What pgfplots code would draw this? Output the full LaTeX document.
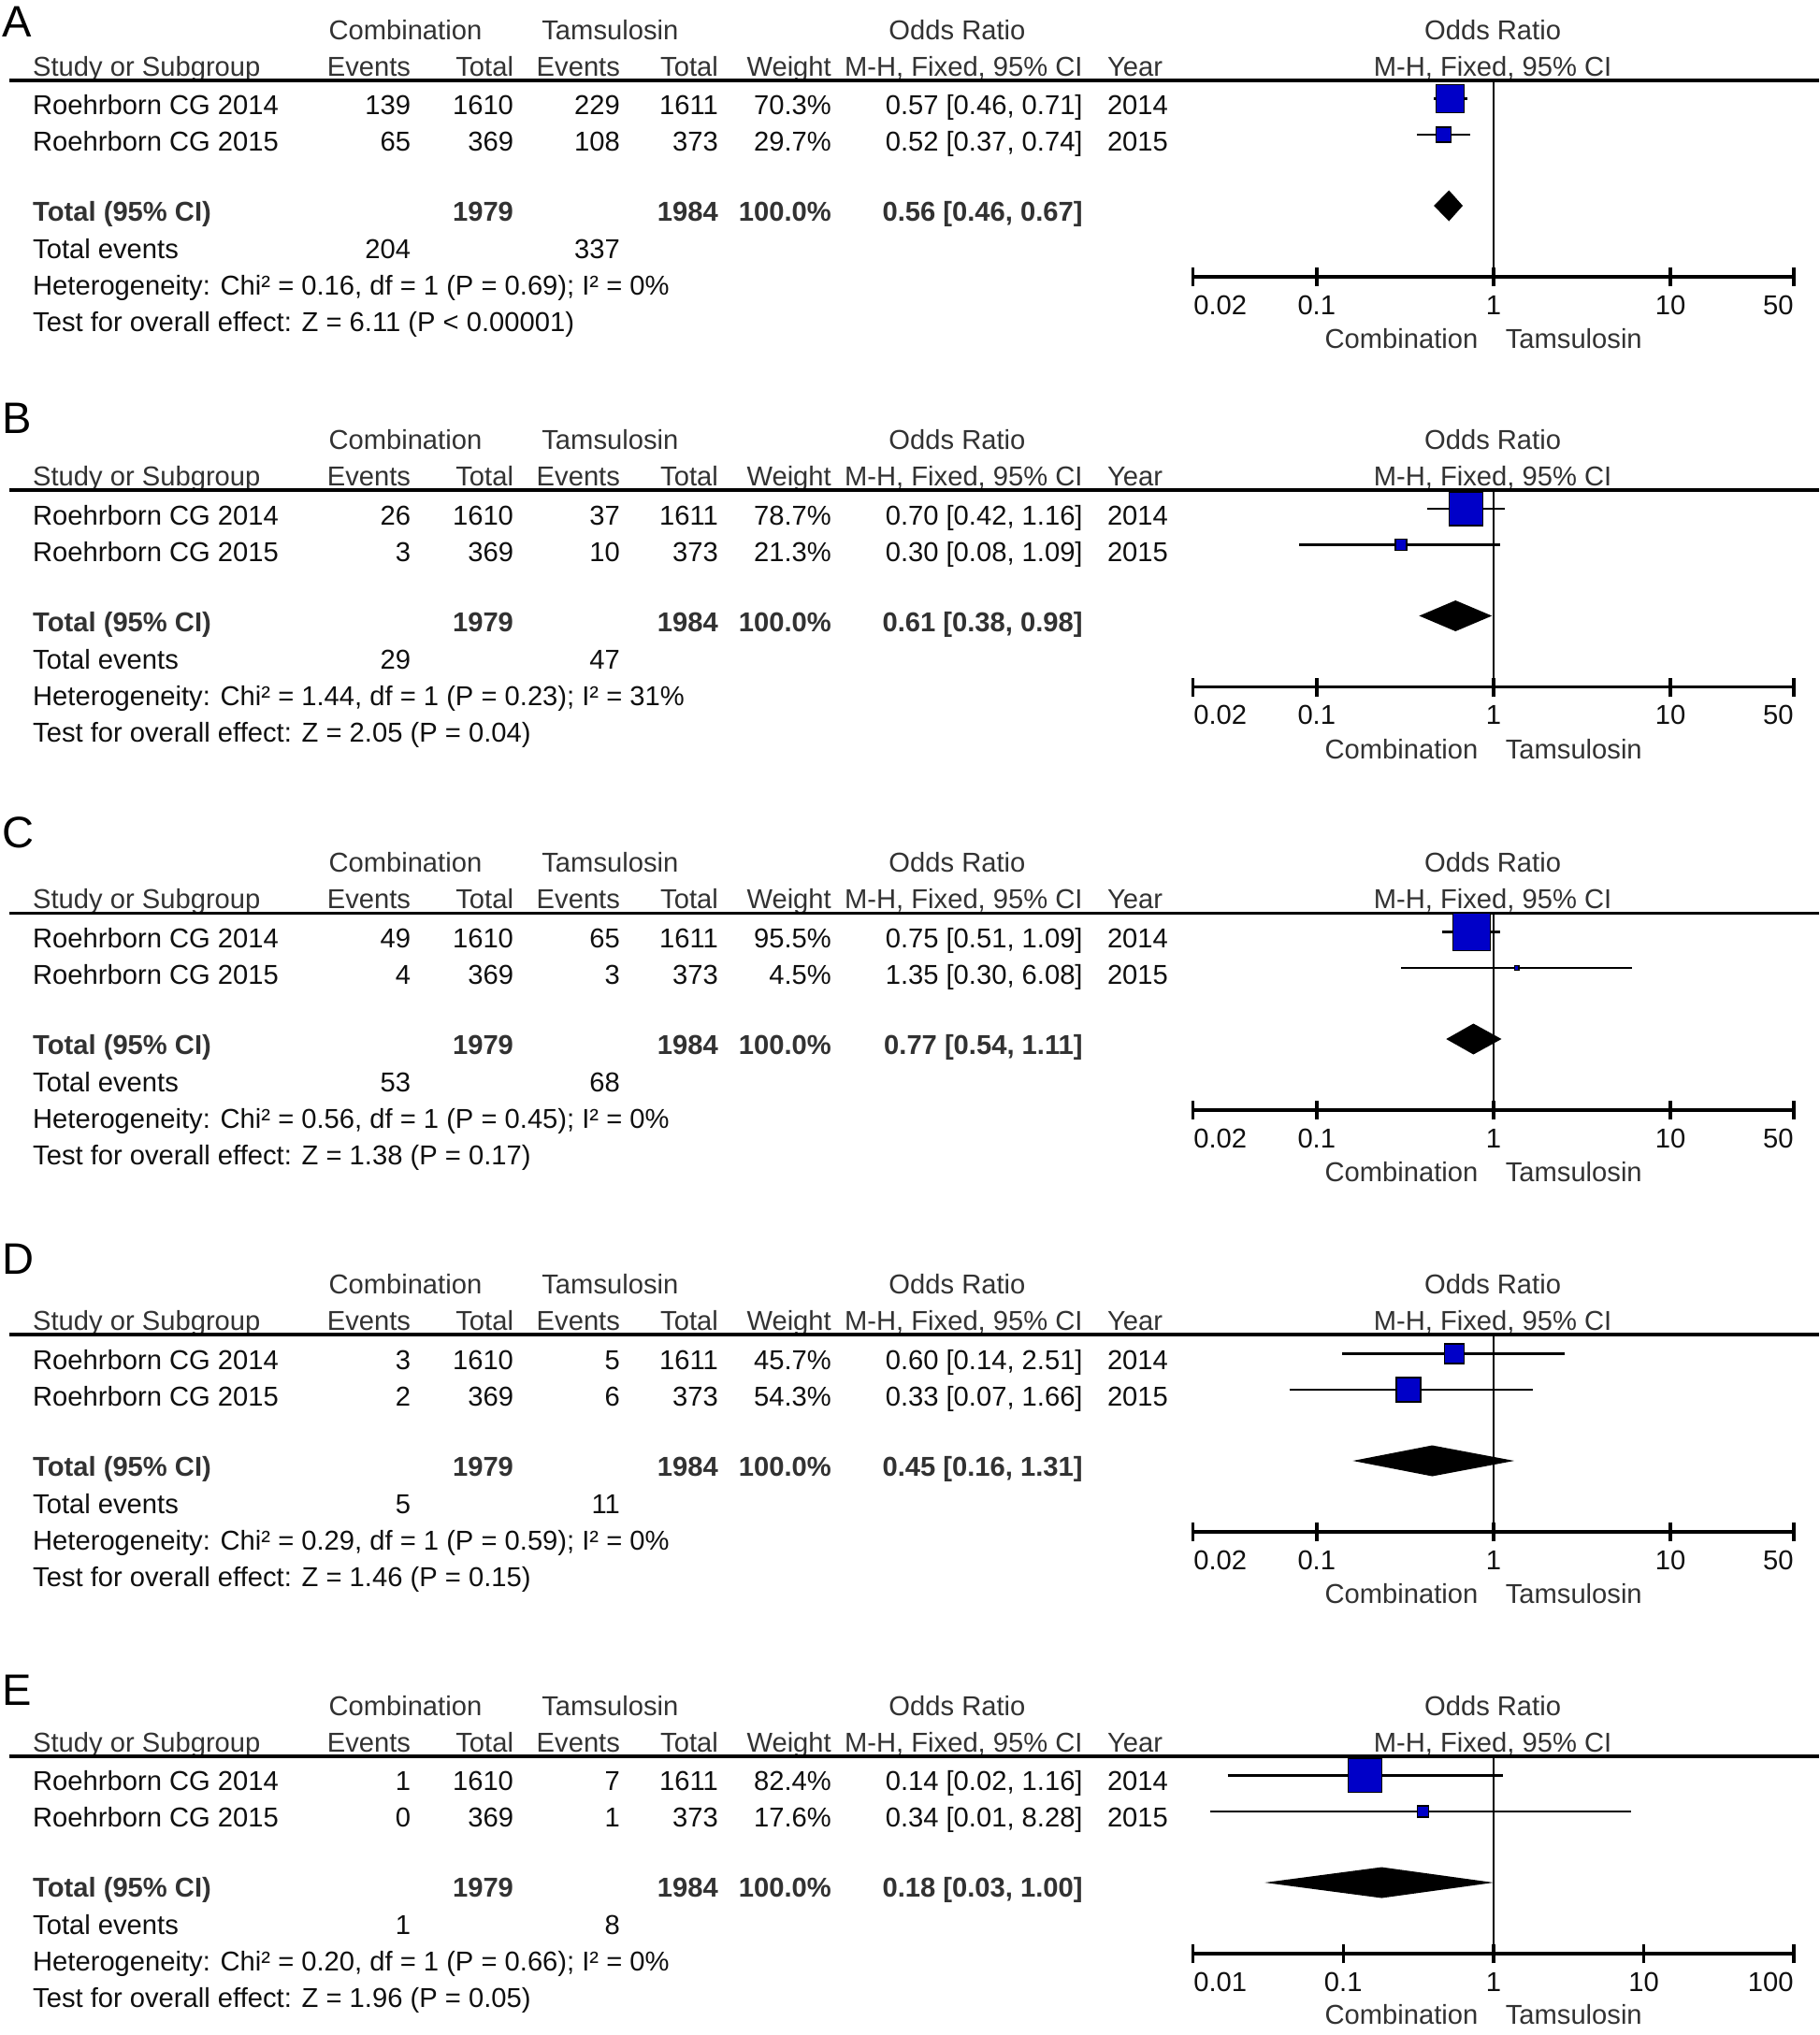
\documentclass[border=0pt]{standalone}
\usepackage{fontspec}
\setmainfont{Liberation Sans}
\usepackage{pgfplots}
\pgfplotsset{compat=1.18}

\definecolor{boxblue}{RGB}{0,0,200}
\definecolor{hdrgray}{RGB}{50,50,50}
\definecolor{txtblack}{RGB}{15,15,15}

\tikzset{
  txt/.style={font=\fontsize{8.3}{10}\selectfont, text=txtblack, inner sep=0pt},
  hdr/.style={font=\fontsize{8.3}{10}\selectfont, text=hdrgray, inner sep=0pt},
  tot/.style={font=\fontsize{8.3}{10}\selectfont\bfseries, text=hdrgray, inner sep=0pt},
  ciline/.style={black, line width=0.75pt},
}

% #1 header line (px from top), #2 letter, #3 letter baseline
\newcommand\panelhead[3]{%
  \node[anchor=base west, inner sep=0pt, font=\fontsize{13.4}{16}\selectfont] at (2,-#3) {#2};
  \node[hdr,anchor=base west] at (351,-#1+43.5) {Combination};
  \node[hdr,anchor=base west] at (579,-#1+43.5) {Tamsulosin};
  \node[hdr,anchor=base] at (1024,-#1+43.5) {Odds Ratio};
  \node[hdr,anchor=base] at (1597,-#1+43.5) {Odds Ratio};
  \node[hdr,anchor=base west] at (34.5,-#1+4.5) {Study or Subgroup};
  \node[hdr,anchor=base east] at (440,-#1+4.5) {Events};
  \node[hdr,anchor=base east] at (550,-#1+4.5) {Total};
  \node[hdr,anchor=base east] at (664,-#1+4.5) {Events};
  \node[hdr,anchor=base east] at (769,-#1+4.5) {Total};
  \node[hdr,anchor=base east] at (890,-#1+4.5) {Weight};
  \node[hdr,anchor=base east] at (1159,-#1+4.5) {M-H, Fixed, 95\% CI};
  \node[hdr,anchor=base west] at (1184,-#1+4.5) {Year};
  \node[hdr,anchor=base] at (1597,-#1+4.5) {M-H, Fixed, 95\% CI};
  \draw[line width=1pt] (10,-#1) -- (1946,-#1);
}

% #1 baseline y, then name, events, total, events, total, weight, OR, year
\newcommand\studyrow[9]{%
  \node[txt,anchor=base west] at (34.5,#1) {#2};
  \node[txt,anchor=base east] at (440,#1) {#3};
  \node[txt,anchor=base east] at (550,#1) {#4};
  \node[txt,anchor=base east] at (664,#1) {#5};
  \node[txt,anchor=base east] at (769,#1) {#6};
  \node[txt,anchor=base east] at (890,#1) {#7};
  \node[txt,anchor=base east] at (1159,#1) {#8};
  \node[txt,anchor=base west] at (1184,#1) {#9};
}

% #1 header line, #2 pooled OR
\newcommand\totalrow[2]{%
  \node[tot,anchor=base west] at (34.5,-#1-151) {Total (95\% CI)};
  \node[tot,anchor=base east] at (550,-#1-151) {1979};
  \node[tot,anchor=base east] at (769,-#1-151) {1984};
  \node[tot,anchor=base east] at (890,-#1-151) {100.0\%};
  \node[tot,anchor=base east] at (1159,-#1-151) {#2};
}

% #1 header line, #2 #3 total events, #4 heterogeneity, #5 overall effect
\newcommand\panelfoot[5]{%
  \node[txt,anchor=base west] at (34.5,-#1-191) {Total events};
  \node[txt,anchor=base east] at (440,-#1-191) {#2};
  \node[txt,anchor=base east] at (664,-#1-191) {#3};
  \node[txt,anchor=base west] at (34.5,-#1-230) {Heterogeneity: #4};
  \node[txt,anchor=base west] at (34.5,-#1-269) {Test for overall effect: #5};
  \node[hdr,anchor=base east] at (1582,-#1-287) {Combination};
  \node[hdr,anchor=base west] at (1610,-#1-287) {Tamsulosin};
}

\newcommand\stdticks{%
  \node[txt,anchor=base west] at (axis cs:0.02,-250) {0.02};
  \node[txt,anchor=base] at (axis cs:0.1,-250) {0.1};
  \node[txt,anchor=base] at (axis cs:1,-250) {1};
  \node[txt,anchor=base] at (axis cs:10,-250) {10};
  \node[txt,anchor=base east] at (axis cs:50,-250) {50};
}

\begin{document}
\begin{tikzpicture}
\useasboundingbox (0,0) rectangle (19.46,-21.76);

% ---------------- table text, 1 unit = 1 px of the reference ----------------
\begin{scope}[x=0.01cm, y=0.01cm]
\panelhead{86}{A}{40}
\studyrow{-86-37}{Roehrborn CG 2014}{139}{1610}{229}{1611}{70.3\%}{0.57 [0.46, 0.71]}{2014}
\studyrow{-86-76}{Roehrborn CG 2015}{65}{369}{108}{373}{29.7\%}{0.52 [0.37, 0.74]}{2015}
\totalrow{86}{0.56 [0.46, 0.67]}
\panelfoot{86}{204}{337}{Chi² = 0.16, df = 1 (P = 0.69); I² = 0\%}{Z = 6.11 (P < 0.00001)}

\panelhead{524.5}{B}{464}
\studyrow{-524.5-37}{Roehrborn CG 2014}{26}{1610}{37}{1611}{78.7\%}{0.70 [0.42, 1.16]}{2014}
\studyrow{-524.5-76}{Roehrborn CG 2015}{3}{369}{10}{373}{21.3\%}{0.30 [0.08, 1.09]}{2015}
\totalrow{524.5}{0.61 [0.38, 0.98]}
\panelfoot{524.5}{29}{47}{Chi² = 1.44, df = 1 (P = 0.23); I² = 31\%}{Z = 2.05 (P = 0.04)}

\panelhead{977}{C}{907}
\studyrow{-977-37}{Roehrborn CG 2014}{49}{1610}{65}{1611}{95.5\%}{0.75 [0.51, 1.09]}{2014}
\studyrow{-977-76}{Roehrborn CG 2015}{4}{369}{3}{373}{4.5\%}{1.35 [0.30, 6.08]}{2015}
\totalrow{977}{0.77 [0.54, 1.11]}
\panelfoot{977}{53}{68}{Chi² = 0.56, df = 1 (P = 0.45); I² = 0\%}{Z = 1.38 (P = 0.17)}

\panelhead{1428}{D}{1363}
\studyrow{-1428-37}{Roehrborn CG 2014}{3}{1610}{5}{1611}{45.7\%}{0.60 [0.14, 2.51]}{2014}
\studyrow{-1428-76}{Roehrborn CG 2015}{2}{369}{6}{373}{54.3\%}{0.33 [0.07, 1.66]}{2015}
\totalrow{1428}{0.45 [0.16, 1.31]}
\panelfoot{1428}{5}{11}{Chi² = 0.29, df = 1 (P = 0.59); I² = 0\%}{Z = 1.46 (P = 0.15)}

\panelhead{1879}{E}{1825}
\studyrow{-1879-37}{Roehrborn CG 2014}{1}{1610}{7}{1611}{82.4\%}{0.14 [0.02, 1.16]}{2014}
\studyrow{-1879-76}{Roehrborn CG 2015}{0}{369}{1}{373}{17.6\%}{0.34 [0.01, 8.28]}{2015}
\totalrow{1879}{0.18 [0.03, 1.00]}
\panelfoot{1879}{1}{8}{Chi² = 0.20, df = 1 (P = 0.66); I² = 0\%}{Z = 1.96 (P = 0.05)}
\end{scope}

% ---------------- forest plots ----------------
% A
\begin{axis}[at={(12.756cm,-2.96cm)}, anchor=south west,
  scale only axis, width=6.426cm, height=2.10cm,
  xmode=log, xmin=0.02, xmax=50, ymin=-210, ymax=0,
  axis x line=bottom, axis y line=none,
  axis line style={-, line width=1pt},
  xtick={0.02,0.1,1,10,50}, xticklabels={}, xminorticks=false,
  major tick length=0.2cm, tick align=center,
  tick style={black, line width=1pt}, clip=false]
  \addplot[ciline] coordinates {(1,0) (1,-210)};
  \addplot[ciline] coordinates {(0.46,-19.5) (0.71,-19.5)};
  \addplot[ciline] coordinates {(0.37,-58) (0.74,-58)};
  \addplot[only marks, mark=square*, mark size=0.15cm, mark options={draw=none, fill=boxblue}] coordinates {(0.57,-19.5)};
  \addplot[only marks, mark=square*, mark size=0.08cm, mark options={draw=none, fill=boxblue}] coordinates {(0.52,-58)};
  \addplot[fill=black, draw=none] coordinates {(0.46,-134) (0.56,-117.5) (0.67,-134) (0.56,-150.5)} -- cycle;
  \stdticks
\end{axis}

% B
\begin{axis}[at={(12.756cm,-7.345cm)}, anchor=south west,
  scale only axis, width=6.426cm, height=2.10cm,
  xmode=log, xmin=0.02, xmax=50, ymin=-210, ymax=0,
  axis x line=bottom, axis y line=none,
  axis line style={-, line width=1pt},
  xtick={0.02,0.1,1,10,50}, xticklabels={}, xminorticks=false,
  major tick length=0.2cm, tick align=center,
  tick style={black, line width=1pt}, clip=false]
  \addplot[ciline] coordinates {(1,0) (1,-210)};
  \addplot[ciline] coordinates {(0.42,-19.5) (1.16,-19.5)};
  \addplot[ciline] coordinates {(0.08,-58) (1.09,-58)};
  \addplot[only marks, mark=square*, mark size=0.18cm, mark options={draw=none, fill=boxblue}] coordinates {(0.70,-19.5)};
  \addplot[only marks, mark=square*, mark size=0.06cm, mark options={draw=none, fill=boxblue}] coordinates {(0.30,-58)};
  \addplot[fill=black, draw=none] coordinates {(0.38,-134) (0.61,-117.5) (0.98,-134) (0.61,-150.5)} -- cycle;
  \stdticks
\end{axis}

% C
\begin{axis}[at={(12.756cm,-11.87cm)}, anchor=south west,
  scale only axis, width=6.426cm, height=2.10cm,
  xmode=log, xmin=0.02, xmax=50, ymin=-210, ymax=0,
  axis x line=bottom, axis y line=none,
  axis line style={-, line width=1pt},
  xtick={0.02,0.1,1,10,50}, xticklabels={}, xminorticks=false,
  major tick length=0.2cm, tick align=center,
  tick style={black, line width=1pt}, clip=false]
  \addplot[ciline] coordinates {(1,0) (1,-210)};
  \addplot[ciline] coordinates {(0.51,-19.5) (1.09,-19.5)};
  \addplot[ciline] coordinates {(0.30,-58) (6.08,-58)};
  \addplot[only marks, mark=square*, mark size=0.20cm, mark options={draw=none, fill=boxblue}] coordinates {(0.75,-19.5)};
  \addplot[only marks, mark=square*, mark size=0.0225cm, mark options={draw=none, fill=boxblue}] coordinates {(1.35,-58)};
  \addplot[fill=black, draw=none] coordinates {(0.54,-134) (0.77,-117.5) (1.11,-134) (0.77,-150.5)} -- cycle;
  \stdticks
\end{axis}

% D
\begin{axis}[at={(12.756cm,-16.38cm)}, anchor=south west,
  scale only axis, width=6.426cm, height=2.10cm,
  xmode=log, xmin=0.02, xmax=50, ymin=-210, ymax=0,
  axis x line=bottom, axis y line=none,
  axis line style={-, line width=1pt},
  xtick={0.02,0.1,1,10,50}, xticklabels={}, xminorticks=false,
  major tick length=0.2cm, tick align=center,
  tick style={black, line width=1pt}, clip=false]
  \addplot[ciline] coordinates {(1,0) (1,-210)};
  \addplot[ciline] coordinates {(0.14,-19.5) (2.51,-19.5)};
  \addplot[ciline] coordinates {(0.07,-58) (1.66,-58)};
  \addplot[only marks, mark=square*, mark size=0.105cm, mark options={draw=none, fill=boxblue}] coordinates {(0.60,-19.5)};
  \addplot[only marks, mark=square*, mark size=0.13cm, mark options={draw=none, fill=boxblue}] coordinates {(0.33,-58)};
  \addplot[fill=black, draw=none] coordinates {(0.16,-134) (0.45,-117.5) (1.31,-134) (0.45,-150.5)} -- cycle;
  \stdticks
\end{axis}

% E
\begin{axis}[at={(12.756cm,-20.89cm)}, anchor=south west,
  scale only axis, width=6.426cm, height=2.10cm,
  xmode=log, xmin=0.01, xmax=100, ymin=-210, ymax=0,
  axis x line=bottom, axis y line=none,
  axis line style={-, line width=1pt},
  xtick={0.01,0.1,1,10,100}, xticklabels={}, xminorticks=false,
  major tick length=0.2cm, tick align=center,
  tick style={black, line width=1pt}, clip=false]
  \addplot[ciline] coordinates {(1,0) (1,-210)};
  \addplot[ciline] coordinates {(0.017,-19.5) (1.16,-19.5)};
  \addplot[ciline] coordinates {(0.013,-58) (8.28,-58)};
  \addplot[only marks, mark=square*, mark size=0.18cm, mark options={draw=none, fill=boxblue}] coordinates {(0.14,-19.5)};
  \addplot[only marks, mark=square*, mark size=0.06cm, mark options={draw=none, fill=boxblue}] coordinates {(0.34,-58)};
  \addplot[fill=black, draw=none] coordinates {(0.03,-134) (0.18,-117.5) (1.00,-134) (0.18,-150.5)} -- cycle;
  \node[txt,anchor=base west] at (axis cs:0.01,-250) {0.01};
  \node[txt,anchor=base] at (axis cs:0.1,-250) {0.1};
  \node[txt,anchor=base] at (axis cs:1,-250) {1};
  \node[txt,anchor=base] at (axis cs:10,-250) {10};
  \node[txt,anchor=base east] at (axis cs:100,-250) {100};
\end{axis}
\end{tikzpicture}
\end{document}
